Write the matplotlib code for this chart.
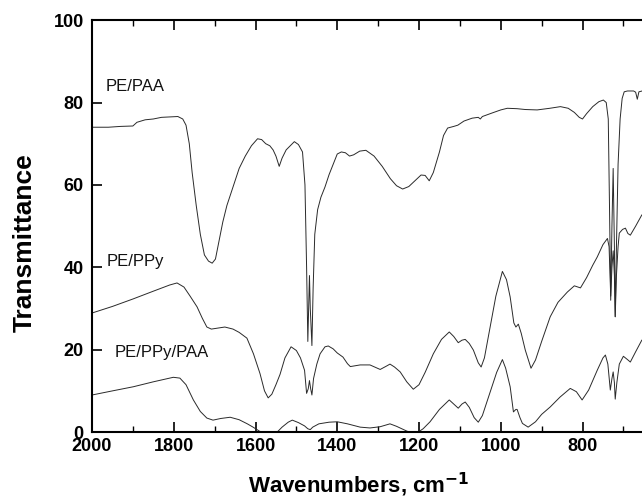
import numpy as np
import matplotlib
matplotlib.use("Agg")
import matplotlib.pyplot as plt
from matplotlib.ticker import MultipleLocator

plt.rcParams['font.family'] = ['Liberation Sans', 'DejaVu Sans']

# PE/PAA spectrum (wavenumber, transmittance)
paa_wn = [2000, 1960, 1930, 1900, 1890, 1870, 1850, 1830, 1810, 1790, 1778, 1770, 1762, 1755,
          1745, 1735, 1725, 1715, 1706, 1698, 1690, 1680, 1670, 1660, 1650, 1640, 1625, 1610,
          1595, 1585, 1575, 1565, 1557, 1550, 1542, 1535, 1525, 1515, 1505, 1495, 1485, 1479,
          1475, 1472, 1470, 1468, 1466, 1462, 1459, 1455, 1448, 1440, 1430, 1420, 1410, 1400,
          1390, 1380, 1370, 1360, 1345, 1330, 1310, 1290, 1270, 1255, 1240, 1225, 1210, 1195,
          1185, 1175, 1165, 1150, 1140, 1130, 1115, 1105, 1090, 1070, 1055, 1050, 1045, 1020,
          1000, 984, 960, 940, 911, 880, 854, 835, 820, 808, 800, 790, 775, 760, 749, 742, 737,
          734, 731, 728, 725, 722, 720, 717, 713, 708, 703, 698, 690, 675, 670, 666, 662, 654]
paa_t = [74.0, 74.0, 74.2, 74.3, 75.2, 75.8, 76.0, 76.4, 76.5, 76.6, 76.0, 74.5, 70, 63,
         55, 48, 43, 41.5, 41, 42, 46, 51, 55, 58, 61, 64, 67, 69.5,
         71.2, 71.0, 70.0, 69.5, 68.5, 67, 64.5, 66.5, 68.5, 69.5, 70.5, 69.8, 68, 60,
         40, 22, 30, 38, 30, 21, 35, 48, 54, 57, 59.5, 62.5, 65, 67.5,
         68, 67.8, 67, 67.3, 68.2, 68.4, 67, 64.5, 61.5, 59.8, 59, 59.6, 61, 62.4,
         62.3, 61, 63, 68, 72, 73.8, 74.2, 74.5, 75.5, 76.2, 76.4, 76.0, 76.6, 77.5,
         78.2, 78.6, 78.5, 78.3, 78.2, 78.6, 79.0, 78.6, 77.6, 76.4, 76.0, 77.3, 79, 80.2, 80.6, 80, 76,
         55, 32, 50, 64, 45, 28, 45, 65, 76, 81, 82.6, 82.8, 82.8, 82.5, 80.8, 82.6, 82.8]

# PE/PPy spectrum
ppy_wn = [2000, 1950, 1900, 1850, 1810, 1792, 1775, 1760, 1743, 1730, 1719, 1708, 1695, 1675,
          1655, 1640, 1621, 1605, 1589, 1578, 1569, 1560, 1550, 1540, 1528, 1513, 1500, 1490,
          1480, 1475, 1471, 1468, 1465, 1462, 1458, 1450, 1442, 1430, 1422, 1410, 1400, 1386,
          1375, 1368, 1344, 1320, 1295, 1280, 1271, 1260, 1246, 1230, 1214, 1200, 1185, 1165,
          1145, 1126, 1115, 1104, 1095, 1087, 1077, 1067, 1055, 1048, 1040, 1026, 1012, 996,
          986, 977, 968, 963, 957, 950, 940, 926, 915, 900, 879, 860, 837, 820, 805, 790, 775,
          764, 750, 739, 735, 731, 728, 725, 722, 720, 717, 713, 710, 702, 695, 689, 683, 670, 655]
ppy_t = [28.9, 30.5, 32.3, 34.2, 35.7, 36.2, 35.2, 33.0, 30.4, 27.6, 25.5, 25.0, 25.2, 25.5,
         25.0, 24.2, 22.8, 19.0, 14.2, 10.0, 8.3, 9.2, 11.5, 14.0, 18.0, 20.7, 19.8, 18.0,
         15.0, 9.4, 10.5, 12.5, 10.5, 9.0, 13, 16.5, 19, 20.7, 20.9, 20.2, 19.2, 18.2,
         16.6, 15.9, 16.3, 16.3, 15.2, 16.0, 16.5, 15.8, 14.6, 12.2, 10.4, 11.5, 14.5, 19.0,
         22.5, 24.3, 23.2, 21.7, 22.3, 22.5, 21.5, 19.9, 16.8, 15.8, 18.0, 25.5, 33.0, 39.0,
         37, 32.8, 26.5, 25.5, 26.2, 24.0, 19.9, 15.5, 17.5, 22.0, 28.0, 31.5, 34.0, 35.5, 35.0, 37.5, 40.5,
         42.5, 45.5, 47.0, 45, 33, 40, 44, 38, 28, 38, 45, 48.3, 49.2, 49.5, 48.2, 47.8, 50.0, 52.7]

# PE/PPy/PAA spectrum
mix_wn = [2000, 1950, 1899, 1850, 1801, 1785, 1770, 1752, 1735, 1719, 1704, 1685, 1662, 1640,
          1620, 1606, 1590, 1584, 1547, 1535, 1520, 1510, 1495, 1480, 1472, 1466, 1460, 1445,
          1420, 1400, 1375, 1344, 1320, 1295, 1271, 1255, 1229, 1220, 1202, 1190, 1173, 1150,
          1126, 1115, 1104, 1095, 1087, 1077, 1065, 1055, 1045, 1030, 1010, 996, 988, 977, 969,
          963, 960, 953, 947, 933, 915, 900, 879, 855, 830, 815, 801, 785, 764, 750, 744, 738,
          732, 728, 725, 722, 720, 716, 710, 700, 690, 683, 670, 655]
mix_t = [9.0, 10.0, 11.0, 12.2, 13.3, 13.1, 11.5, 7.8, 5.0, 3.4, 2.9, 3.3, 3.6, 3.0,
         2.0, 1.2, 0.2, 0.0, 0.0, 1.2, 2.4, 2.9, 2.3, 1.5, 0.8, 0.6, 1.2, 2.0,
         2.4, 2.5, 2.0, 1.2, 1.0, 1.3, 2.0, 1.4, 0.2, 0.0, 0.0, 0.8, 2.5, 5.5,
         7.8, 6.8, 5.8, 6.8, 7.3, 6.0, 3.5, 2.4, 4.0, 8.5, 14.5, 17.6, 15.5, 11.0, 4.9,
         5.5, 5.5, 3.5, 2.1, 1.2, 2.5, 4.3, 6.1, 8.5, 10.6, 9.8, 7.8, 10.2, 15.0, 18.0, 18.7, 16.5,
         10.2, 13, 14.6, 12, 8.0, 12, 16.5, 18.4, 17.6, 17.0, 19.5, 22.3]

labels = ['PE/PAA', 'PE/PPy', 'PE/PPy/PAA']
label_pos = [(1966, 83.8), (1963, 41.3), (1944, 19.2)]

fig = plt.figure(figsize=(6.42, 5.03), dpi=100)
ax = fig.add_axes([0.1433, 0.141, 0.857, 0.819])

for wn, t in [(paa_wn, paa_t), (ppy_wn, ppy_t), (mix_wn, mix_t)]:
    ax.plot(wn, t, color='#2a2a2a', lw=0.7)

for lab, (x, y) in zip(labels, label_pos):
    ax.text(x, y, lab, fontsize=12, va='center', ha='left', color='#111111')

ax.set_xlim(2000, 654)
ax.set_ylim(0, 100)
ax.xaxis.set_major_locator(MultipleLocator(200))
ax.xaxis.set_minor_locator(MultipleLocator(100))
ax.yaxis.set_major_locator(MultipleLocator(20))
ax.tick_params(axis='x', which='both', direction='in', top=True, bottom=True)
ax.tick_params(axis='y', which='both', direction='in', left=True, right=False)
ax.tick_params(which='major', length=7, width=1.2, labelsize=13)
ax.tick_params(which='minor', length=4, width=1.0)
ax.tick_params(axis='x', pad=4)
ax.tick_params(axis='y', pad=6)
for lbl in ax.get_xticklabels() + ax.get_yticklabels():
    lbl.set_fontweight('bold')
ax.spines['right'].set_visible(False)
for s in ['left', 'top', 'bottom']:
    ax.spines[s].set_linewidth(1.5)

ax.set_xlabel('Wavenumbers, cm$^{\\mathbf{-1}}$', fontsize=16, fontweight='bold')
ax.xaxis.set_label_coords(0.485, -0.095)
ax.set_ylabel('Transmittance', fontsize=19, fontweight='bold')
ax.yaxis.set_label_coords(-0.101, 0.459)

fig.savefig('out.png', dpi=100)
